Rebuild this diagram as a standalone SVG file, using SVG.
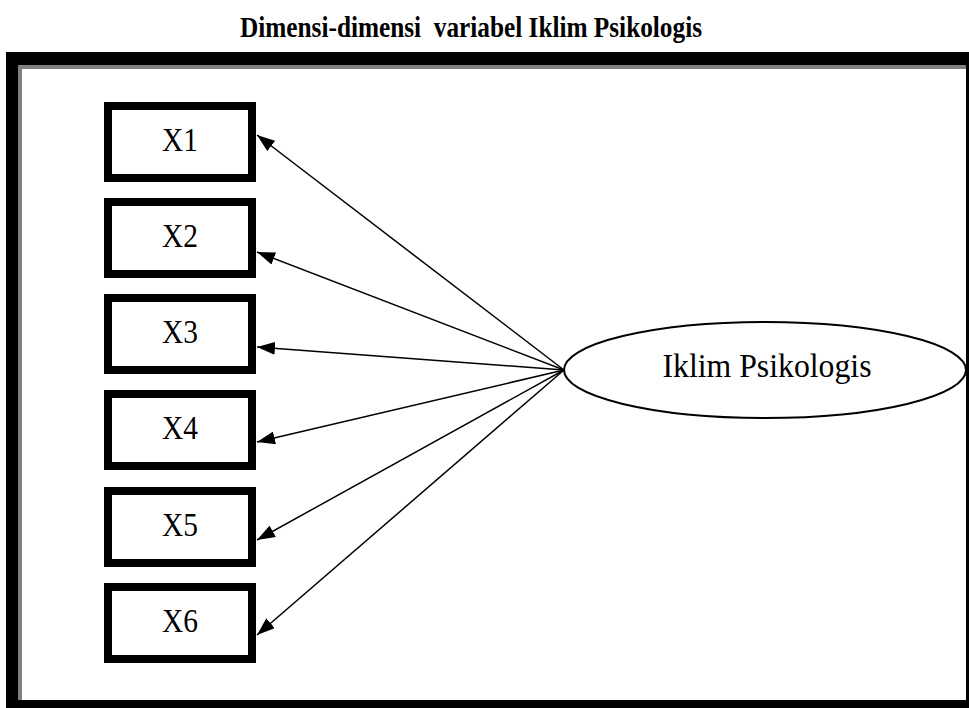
<svg xmlns="http://www.w3.org/2000/svg" width="969" height="708" viewBox="0 0 969 708">
<style>
.box rect{fill:#fff;stroke:#000;stroke-width:8}
.lbl{font-family:"Liberation Serif","Times New Roman",serif;font-size:34px;fill:#000;text-anchor:middle}
.conn line{stroke:#000;stroke-width:1.5;marker-end:url(#ah)}
</style>
<defs>
<marker id="ah" viewBox="0 0 18 13" refX="18" refY="6.5" markerWidth="18" markerHeight="13" markerUnits="userSpaceOnUse" orient="auto">
<path d="M0,0 L18,6.5 L0,13 Z" fill="#000"/>
</marker>
</defs>
<rect width="969" height="708" fill="#fff"/>
<text x="471" y="37" xml:space="preserve" style="white-space:pre" font-family="'Liberation Serif','Times New Roman',serif" font-weight="bold" font-size="30" text-anchor="middle" textLength="462" lengthAdjust="spacingAndGlyphs">Dimensi-dimensi  variabel Iklim Psikologis</text>
<g id="frame">
<rect x="6" y="52" width="963" height="656" fill="#000"/>
<rect x="18" y="65" width="948" height="635" fill="#808080"/>
<rect x="22" y="69" width="944" height="631" fill="#fff"/>
</g>
<g id="x1" class="box"><rect x="108" y="106" width="144" height="72"/><text class="lbl" x="180" y="151" textLength="36" lengthAdjust="spacingAndGlyphs">X1</text></g>
<g id="x2" class="box"><rect x="108" y="202" width="144" height="72"/><text class="lbl" x="180" y="247" textLength="36" lengthAdjust="spacingAndGlyphs">X2</text></g>
<g id="x3" class="box"><rect x="108" y="298" width="144" height="72"/><text class="lbl" x="180" y="343" textLength="36" lengthAdjust="spacingAndGlyphs">X3</text></g>
<g id="x4" class="box"><rect x="108" y="394" width="144" height="72"/><text class="lbl" x="180" y="439" textLength="36" lengthAdjust="spacingAndGlyphs">X4</text></g>
<g id="x5" class="box"><rect x="108" y="491" width="144" height="72"/><text class="lbl" x="180" y="536" textLength="36" lengthAdjust="spacingAndGlyphs">X5</text></g>
<g id="x6" class="box"><rect x="108" y="587" width="144" height="72"/><text class="lbl" x="180" y="632" textLength="36" lengthAdjust="spacingAndGlyphs">X6</text></g>
<g id="iklim">
<ellipse cx="765" cy="370" rx="201" ry="48" fill="#fff" stroke="#000" stroke-width="2"/>
<text class="lbl" x="767" y="377" textLength="209" lengthAdjust="spacingAndGlyphs">Iklim Psikologis</text>
</g>
<g id="connectors" class="conn">
<line x1="564" y1="370" x2="257" y2="135"/>
<line x1="564" y1="370" x2="257" y2="252"/>
<line x1="564" y1="370" x2="257" y2="347"/>
<line x1="564" y1="370" x2="257" y2="442"/>
<line x1="564" y1="370" x2="257" y2="540"/>
<line x1="564" y1="370" x2="257" y2="635"/>
</g>
</svg>
